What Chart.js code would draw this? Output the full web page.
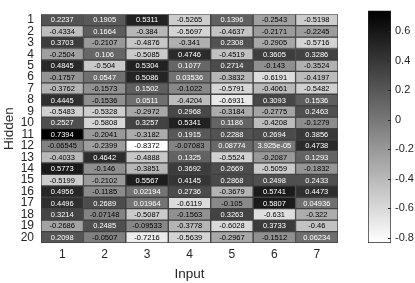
<!DOCTYPE html>
<html>
<head>
<meta charset="utf-8">
<script src="https://cdn.jsdelivr.net/npm/chart.js@4/dist/chart.umd.min.js"></script>
<style>
  body { margin: 0; background: #fff; }
  #wrap { position: relative; width: 415px; height: 283px; }
  #wrap canvas { position: absolute; left: 0; top: 0; }
</style>
</head>
<body>
<div id="wrap">
  <canvas id="heat" width="415" height="283"></canvas>
  <canvas id="bar" width="415" height="283"></canvas>
</div>
<script>
const hidden = [1, 2, 3, 4, 5, 6, 7, 8, 9, 10, 11, 12, 13, 14, 15, 16, 17, 18, 19, 20];
const inputs = ['1', '2', '3', '4', '5', '6', '7'];
const colorbarTicks = [-0.8, -0.6, -0.4, -0.2, 0, 0.2, 0.4, 0.6];

// one array per input column, row order = hidden 1..20
const input1 = [0.2237, -0.4334, 0.3703, -0.2504, 0.4845, -0.1757, -0.3762, 0.4445, -0.5483, 0.2527,
                0.7394, -0.06545, -0.4033, 0.5773, -0.5199, 0.4956, 0.4496, 0.3214, -0.2686, 0.2098];
const input2 = [0.1905, 0.1664, -0.2107, 0.106, -0.504, 0.0547, -0.1573, -0.1536, -0.5328, -0.5808,
                -0.2041, -0.2399, 0.4642, -0.146, -0.2102, -0.1185, 0.2689, -0.07148, 0.2485, -0.0507];
const input3 = [0.5311, -0.384, -0.4876, -0.5085, 0.5304, 0.5086, 0.1502, 0.0511, -0.2972, 0.3257,
                -0.3182, -0.8372, -0.4888, -0.3851, 0.5567, 0.02194, 0.01964, -0.5087, -0.09533, -0.7216];
const input4 = [-0.5265, -0.5697, -0.341, 0.4746, 0.1077, 0.03536, -0.1022, -0.4204, 0.2968, 0.5341,
                0.1915, -0.07083, 0.1325, 0.3692, 0.4145, 0.2736, -0.6119, -0.1563, -0.3778, -0.5639];
const input5 = [0.1396, -0.4637, 0.2308, -0.4519, 0.2714, -0.3832, -0.5791, -0.6931, -0.3184, 0.1186,
                0.2288, 0.08774, -0.5524, 0.2669, 0.2868, -0.3679, -0.105, 0.3263, -0.6028, -0.2967];
const input6 = [-0.2543, -0.2171, -0.2905, 0.3605, -0.143, -0.6191, -0.4061, 0.3093, -0.2775, -0.4208,
                0.2694, 3.925e-05, -0.2087, -0.5059, 0.2498, 0.5741, 0.5807, -0.631, 0.3733, -0.1512];
const input7 = [-0.5198, -0.2245, -0.5716, 0.3286, -0.3524, -0.4197, -0.5482, 0.1536, 0.2463, -0.1279,
                0.3856, 0.4738, 0.1293, -0.1832, 0.2433, 0.4473, 0.04936, -0.322, -0.46, 0.06234];

const weights = [input1, input2, input3, input4, input5, input6, input7];
const all = weights.flat();
const vMin = Math.min(...all);
const vMax = Math.max(...all);

const FONT = "'Liberation Sans', Arial, sans-serif";
const TXT = '#262626';

function level(v) {
    return (vMax - v) / (vMax - vMin); // 0 = black, 1 = white
}
function gray(v) {
    const g = Math.round(255 * level(v));
    return `rgb(${g},${g},${g})`;
}
// like %.4g
function fmt(v) {
    if (v !== 0 && Math.abs(v) < 1e-4) {
        let [m, e] = v.toExponential(3).split('e');
        m = m.replace(/\.?0+$/, '');
        const n = parseInt(e, 10);
        return m + 'e' + (n < 0 ? '-' : '+') + String(Math.abs(n)).padStart(2, '0');
    }
    let s = v.toPrecision(4);
    if (s.includes('.')) s = s.replace(/\.?0+$/, '');
    return s;
}

const cellText = {
    id: 'cellText',
    afterDatasetsDraw(chart) {
        const ctx = chart.ctx;
        ctx.save();
        ctx.font = `7.5px ${FONT}`;
        ctx.textAlign = 'center';
        ctx.textBaseline = 'middle';
        chart.data.datasets.forEach((ds, r) => {
            chart.getDatasetMeta(r).data.forEach((el, c) => {
                const v = weights[c][r];
                ctx.fillStyle = level(v) < 0.5 ? '#ffffff' : '#000000';
                const p = el.getCenterPoint();
                ctx.fillText(fmt(v), p.x, p.y + 0.5);
            });
        });
        ctx.restore();
    }
};

// small inward tick marks on the colorbar's right edge
const barTicks = {
    id: 'barTicks',
    afterDatasetsDraw(chart) {
        const ctx = chart.ctx;
        const y = chart.scales.y;
        const right = chart.chartArea.right;
        ctx.save();
        ctx.strokeStyle = '#262626';
        ctx.lineWidth = 1;
        colorbarTicks.forEach(t => {
            const py = Math.round(y.getPixelForValue(t)) + 0.5;
            ctx.beginPath();
            ctx.moveTo(right - 3, py);
            ctx.lineTo(right, py);
            ctx.stroke();
        });
        ctx.restore();
    }
};

new Chart(document.getElementById('heat'), {
    type: 'bar',
    data: {
        labels: inputs,
        datasets: hidden.map((h, r) => ({
            data: inputs.map(() => [h - 0.5, h + 0.5]),
            backgroundColor: weights.map(col => gray(col[r])),
            borderColor: '#404040',
            borderWidth: 1,
            borderSkipped: false,
            barPercentage: 1,
            categoryPercentage: 1,
            grouped: false
        }))
    },
    options: {
        responsive: false,
        animation: false,
        events: [],
        layout: { padding: { top: 2, right: 77, left: 0, bottom: 0 } },
        plugins: { legend: { display: false }, tooltip: { enabled: false } },
        scales: {
            x: {
                grid: { display: false, drawTicks: false },
                border: { display: false },
                ticks: { color: TXT, font: { family: FONT, size: 12 }, padding: 4 },
                title: { display: true, text: 'Input', color: TXT, font: { family: FONT, size: 13.5 }, padding: 1 },
                afterFit: s => { s.height = 40; }
            },
            y: {
                type: 'linear',
                min: 0.5,
                max: 20.5,
                reverse: true,
                grid: { display: false, drawTicks: false },
                border: { display: false },
                afterBuildTicks: s => { s.ticks = hidden.map(v => ({ value: v })); },
                ticks: { autoSkip: false, color: TXT, font: { family: FONT, size: 12 }, padding: 7 },
                title: { display: true, text: 'Hidden', color: TXT, font: { family: FONT, size: 13.5 }, padding: 1 },
                afterFit: s => { s.width = 41; }
            }
        }
    },
    plugins: [cellText]
});

// colorbar
new Chart(document.getElementById('bar'), {
    type: 'bar',
    data: {
        labels: [''],
        datasets: [{
            data: [[vMin, vMax]],
            backgroundColor: ctx => {
                const area = ctx.chart.chartArea;
                if (!area) return '#888';
                const g = ctx.chart.ctx.createLinearGradient(0, area.top, 0, area.bottom);
                g.addColorStop(0, '#000000');
                g.addColorStop(1, '#ffffff');
                return g;
            },
            borderColor: '#262626',
            borderWidth: 1,
            borderSkipped: false,
            barPercentage: 1,
            categoryPercentage: 1
        }]
    },
    options: {
        responsive: false,
        animation: false,
        events: [],
        layout: { padding: { top: 2, right: 0, left: 368, bottom: 40 } },
        plugins: { legend: { display: false }, tooltip: { enabled: false } },
        scales: {
            x: { display: false },
            y: {
                position: 'right',
                min: vMin,
                max: vMax,
                grid: { display: false, drawTicks: false },
                border: { display: false },
                afterBuildTicks: s => { s.ticks = colorbarTicks.map(v => ({ value: v })); },
                ticks: { color: TXT, font: { family: FONT, size: 11 }, padding: 4,
                         callback: v => String(Math.round(v * 10) / 10) },
                afterFit: s => { s.width = 24; }
            }
        }
    },
    plugins: [barTicks]
});
</script>
</body>
</html>
